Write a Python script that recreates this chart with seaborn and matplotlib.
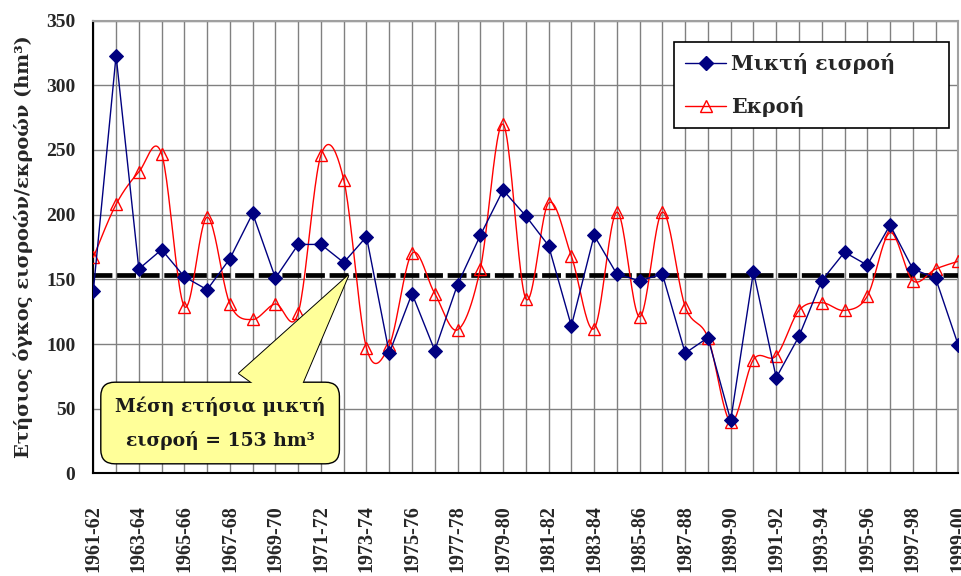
import numpy as np
import pandas as pd
import matplotlib
matplotlib.use('Agg')
import matplotlib.pyplot as plt
from matplotlib.lines import Line2D
import seaborn as sns

# hydrological years
years = ['1961-62', '1962-63', '1963-64', '1964-65', '1965-66', '1966-67', '1967-68',
         '1968-69', '1969-70', '1970-71', '1971-72', '1972-73', '1973-74', '1974-75',
         '1975-76', '1976-77', '1977-78', '1978-79', '1979-80', '1980-81', '1981-82',
         '1982-83', '1983-84', '1984-85', '1985-86', '1986-87', '1987-88', '1988-89',
         '1989-90', '1990-91', '1991-92', '1992-93', '1993-94', '1994-95', '1995-96',
         '1996-97', '1997-98', '1998-99', '1999-00']

# net inflow (hm3)
mikti = [141, 323, 158, 173, 152, 142, 166, 201, 151, 177, 177, 163, 183, 93,
         139, 95, 146, 184, 219, 199, 176, 114, 184, 154, 149, 154, 93, 105,
         41, 156, 74, 106, 149, 171, 161, 192, 158, 151, 99]

# outflow (hm3)
ekroi = [167, 208, 233, 247, 129, 198, 131, 119, 131, 124, 246, 227, 97, 99,
         170, 139, 111, 158, 270, 135, 209, 168, 112, 202, 121, 202, 129, 105,
         40, 88, 91, 126, 132, 126, 137, 186, 149, 158, 164]

mean_in = 153

NAVY = '#000080'
RED = '#FF0000'
YELLOW = '#FFFF99'
GREEK = ['DejaVu Serif']

sns.set_style('white')
plt.rcParams['font.family'] = ['Liberation Serif', 'DejaVu Serif']
plt.rcParams['font.weight'] = 'bold'


def smooth(x, y, n=24):
    # excel-like smoothed line (catmull-rom as cubic bezier)
    x = np.asarray(x, float)
    y = np.asarray(y, float)
    px = np.concatenate([[x[0]], x, [x[-1]]])
    py = np.concatenate([[y[0]], y, [y[-1]]])
    t = np.linspace(0, 1, n)
    xs, ys = [], []
    for i in range(len(x) - 1):
        p0 = np.array([px[i], py[i]])
        p1 = np.array([px[i + 1], py[i + 1]])
        p2 = np.array([px[i + 2], py[i + 2]])
        p3 = np.array([px[i + 3], py[i + 3]])
        c1 = p1 + (p2 - p0) / 6
        c2 = p2 - (p3 - p1) / 6
        b = ((1 - t) ** 3)[:, None] * p1 + (3 * (1 - t) ** 2 * t)[:, None] * c1 \
            + (3 * (1 - t) * t ** 2)[:, None] * c2 + (t ** 3)[:, None] * p2
        xs.extend(b[:, 0])
        ys.extend(b[:, 1])
    return np.array(xs), np.array(ys)


df = pd.DataFrame({'idx': np.arange(len(years)), 'year': years,
                   'mikti': mikti, 'ekroi': ekroi})
sx, sy = smooth(df['idx'], df['ekroi'])
sm = pd.DataFrame({'x': sx, 'y': sy})

fig = plt.figure(figsize=(9.62, 5.76), dpi=100)
ax = fig.add_axes([0.097, 0.178, 0.8992, 0.7863])

ax.axhline(mean_in, color='black', lw=3.4, dashes=(4.0, 1.0), zorder=3)

sns.lineplot(data=sm, x='x', y='y', color=RED, lw=1, sort=False,
             estimator=None, ax=ax, zorder=4)
ax.plot(df['idx'], df['ekroi'], ls='none', marker='^', ms=8.5, mfc='none',
        mec=RED, mew=1, zorder=5)
sns.lineplot(data=df, x='idx', y='mikti', color=NAVY, lw=1, marker='D',
             markersize=7, markeredgecolor=NAVY, ax=ax, zorder=6)

ax.set_xlim(0, len(years) - 1)
ax.set_ylim(0, 350)
ax.set_yticks(range(0, 351, 50))
ax.set_xticks(df['idx'])
ax.set_xticklabels([y if i % 2 == 0 else '' for i, y in enumerate(years)],
                   rotation=90, fontsize=14.5, fontweight='bold')
ax.tick_params(axis='y', labelsize=14, direction='inout', length=10, pad=8)
ax.tick_params(axis='x', direction='inout', length=10, pad=18)
ax.grid(True, color='#808080', lw=1)
ax.set_axisbelow(True)
ax.set_xlabel('')
ax.set_ylabel('Ετήσιος όγκος εισροών/εκροών (hm³)', fontsize=14,
              fontweight='bold', family=GREEK, labelpad=9)

for s in ['left', 'bottom']:
    ax.spines[s].set_color('black')
    ax.spines[s].set_linewidth(1.5)
for s in ['top', 'right']:
    ax.spines[s].set_color('#a0a0a0')
    ax.spines[s].set_linewidth(1.5)

handles = [Line2D([], [], color=NAVY, lw=1, marker='D', ms=7),
           Line2D([], [], color=RED, lw=1, marker='^', ms=8.5, mfc='none')]
leg = ax.legend(handles, ['Μικτή εισροή', 'Εκροή'], loc='upper left',
                bbox_to_anchor=(0.6713, 0.0, 0.3179, 0.9525), mode='expand',
                borderaxespad=0, fancybox=False, edgecolor='black',
                framealpha=1, prop={'size': 14.8, 'weight': 'bold',
                                    'family': GREEK},
                handlelength=2.0, labelspacing=1.05, borderpad=0.55,
                handletextpad=0.2)
leg.get_frame().set_linewidth(1.2)

# callout box
note = 'Μέση ετήσια μικτή\nεισροή = 153 hm³'
wedge = dict(arrowstyle='wedge,tail_width=1.0,shrink_factor=0.5',
             shrinkA=0, shrinkB=0, mutation_scale=46)
ax.annotate('', xy=(11.2, mean_in), xytext=(7.54, 63),
            arrowprops=dict(fc=YELLOW, ec='black', lw=1.4, **wedge), zorder=7)
ax.text(5.57, 39, note, ha='center', va='center', fontsize=13.5,
        family=GREEK, linespacing=2.0, color='none', zorder=8,
        bbox=dict(boxstyle='round,pad=0.75', fc=YELLOW, ec='black', lw=1))
ax.annotate('', xy=(11.2, mean_in), xytext=(7.54, 63),
            arrowprops=dict(fc=YELLOW, ec='none', lw=0, **wedge), zorder=9)
ax.text(5.57, 39, note, ha='center', va='center', fontsize=13.5,
        family=GREEK, linespacing=2.0, color='#1a1a1a', zorder=10)

fig.savefig('out.png', dpi=100)
